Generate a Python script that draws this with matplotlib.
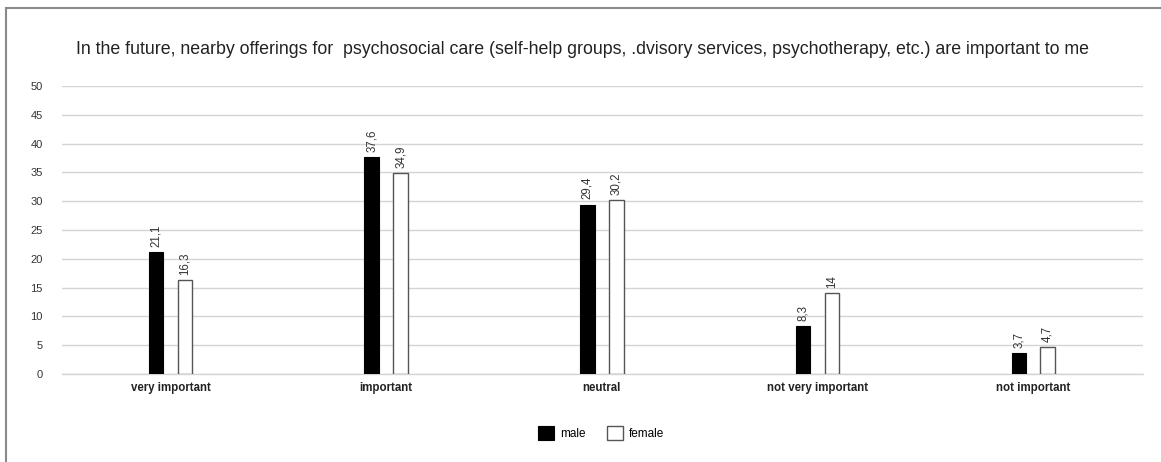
import matplotlib.pyplot as plt
import numpy as np
from matplotlib.patches import Rectangle

categories = ["very important", "important", "neutral", "not very important", "not important"]
male = [21.1, 37.6, 29.4, 8.3, 3.7]
female = [16.3, 34.9, 30.2, 14, 4.7]
male_labels = ["21,1", "37,6", "29,4", "8,3", "3,7"]
female_labels = ["16,3", "34,9", "30,2", "14", "4,7"]
yticks = [0, 5, 10, 15, 20, 25, 30, 35, 40, 45, 50]

TITLE = ("In the future, nearby offerings for  psychosocial care (self-help groups, "
         ".dvisory services, psychotherapy, etc.) are important to me")

plt.rcParams["font.family"] = ["Liberation Sans", "DejaVu Sans"]

W, H = 1161, 462
fig = plt.figure(figsize=(W / 100, H / 100), dpi=100)

# outer frame (only left and top edges visible in the original)
fig.patches.append(Rectangle((6 / W, -0.1), 1.2, 1 - 8 / H + 0.1,
                             transform=fig.transFigure, fill=False,
                             edgecolor="#8a8a8a", linewidth=1.5))

ax = fig.add_axes([62 / W, 1 - 374 / H, (1143 - 62) / W, (374 - 86) / H])

x = np.arange(len(categories))
w = 0.067
off = 0.067

ax.bar(x - off, male, w, color="black", edgecolor="black", linewidth=0.8,
       label="male", zorder=3)
ax.bar(x + off, female, w, color="white", edgecolor="#555555", linewidth=1.0,
       label="female", zorder=3)

for xi, v, t in zip(x - off, male, male_labels):
    ax.text(xi, v + 0.9, t, rotation=90, ha="center", va="bottom",
            fontsize=8.3, color="#333333")
for xi, v, t in zip(x + off, female, female_labels):
    ax.text(xi, v + 0.9, t, rotation=90, ha="center", va="bottom",
            fontsize=8.3, color="#333333")

ax.set_xlim(-0.503, 4.509)
ax.set_ylim(0, 50)
ax.set_yticks(yticks)
ax.yaxis.grid(True, color="#d4d4d4", linewidth=1.0, zorder=0)
ax.axhline(0, color="#d4d4d4", linewidth=1.0, zorder=1, clip_on=False)
ax.set_axisbelow(True)
for s in ax.spines.values():
    s.set_visible(False)
ax.tick_params(axis="y", length=0, pad=14, labelsize=8, labelcolor="#333333")
ax.tick_params(axis="x", length=0, pad=6)
ax.set_xticks(x)
ax.set_xticklabels(categories, fontsize=8.3, fontweight="bold", color="#222222")

fig.text(582 / W, 1 - 50 / H, TITLE, ha="center", va="center",
         fontsize=12.8, color="#222222")

fig.legend(loc="center", bbox_to_anchor=(601 / W, 1 - 433 / H), ncol=2,
           frameon=False, fontsize=8.5, handlelength=1.4, handleheight=1.4,
           columnspacing=1.8, handletextpad=0.5)

fig.savefig("out.png", dpi=100)
